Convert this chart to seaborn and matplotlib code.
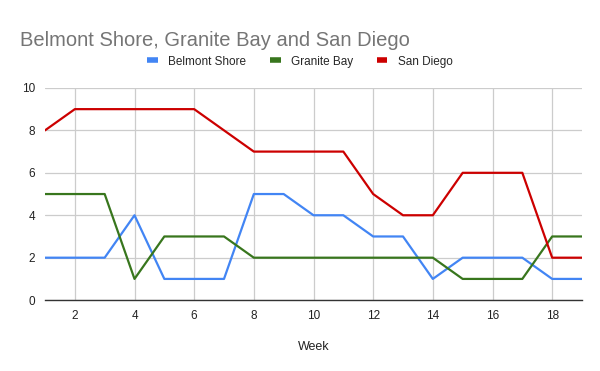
import pandas as pd
import matplotlib
matplotlib.use('Agg')
import matplotlib.pyplot as plt
import seaborn as sns

weeks = list(range(1, 20))
belmont_shore = [2, 2, 2, 4, 1, 1, 1, 5, 5, 4, 4, 3, 3, 1, 2, 2, 2, 1, 1]
granite_bay = [5, 5, 5, 1, 3, 3, 3, 2, 2, 2, 2, 2, 2, 2, 1, 1, 1, 3, 3]
san_diego = [8, 9, 9, 9, 9, 9, 8, 7, 7, 7, 7, 5, 4, 4, 6, 6, 6, 2, 2]
series_names = ['Belmont Shore', 'Granite Bay', 'San Diego']
colors = ['#4285F4', '#38761D', '#CC0000']

df = pd.DataFrame({
    'Week': weeks * 3,
    'value': belmont_shore + granite_bay + san_diego,
    'series': [s for s in series_names for _ in weeks],
})

sns.set_style('white')
plt.rcParams['font.family'] = ['Liberation Sans', 'DejaVu Sans']

fig = plt.figure(figsize=(6, 3.71), dpi=100)
ax = fig.add_axes([0.075, 0.191, 0.895, 0.572])

sns.lineplot(data=df, x='Week', y='value', hue='series', palette=colors,
             linewidth=1.6, ax=ax, legend=False)

ax.set_xlim(1, 19)
ax.set_ylim(0, 10)
ax.set_xticks(range(2, 19, 2))
ax.set_yticks(range(0, 11, 2))
ax.grid(True, color='#cccccc', linewidth=0.9)
ax.set_axisbelow(True)
for side in ['top', 'right', 'left']:
    ax.spines[side].set_visible(False)
ax.spines['bottom'].set_color('#333333')
ax.spines['bottom'].set_linewidth(1)
ax.tick_params(axis='both', length=0, labelsize=8.5, colors='#222222', pad=7)
ax.set_xlabel('Week', fontsize=9, color='#222222', labelpad=14)
ax.set_ylabel('')

fig.text(0.033, 0.89, 'Belmont Shore, Granite Bay and San Diego',
         fontsize=14.5, color='#757575', va='center')

handles = [plt.Line2D([0], [0], color=c, linewidth=4, solid_capstyle='butt')
           for c in colors]
fig.legend(handles, series_names, loc='center', bbox_to_anchor=(0.5, 0.834),
           ncol=3, frameon=False, fontsize=8.5, handlelength=0.9,
           columnspacing=2.0, handletextpad=0.9)

fig.savefig('out.png', dpi=100)
